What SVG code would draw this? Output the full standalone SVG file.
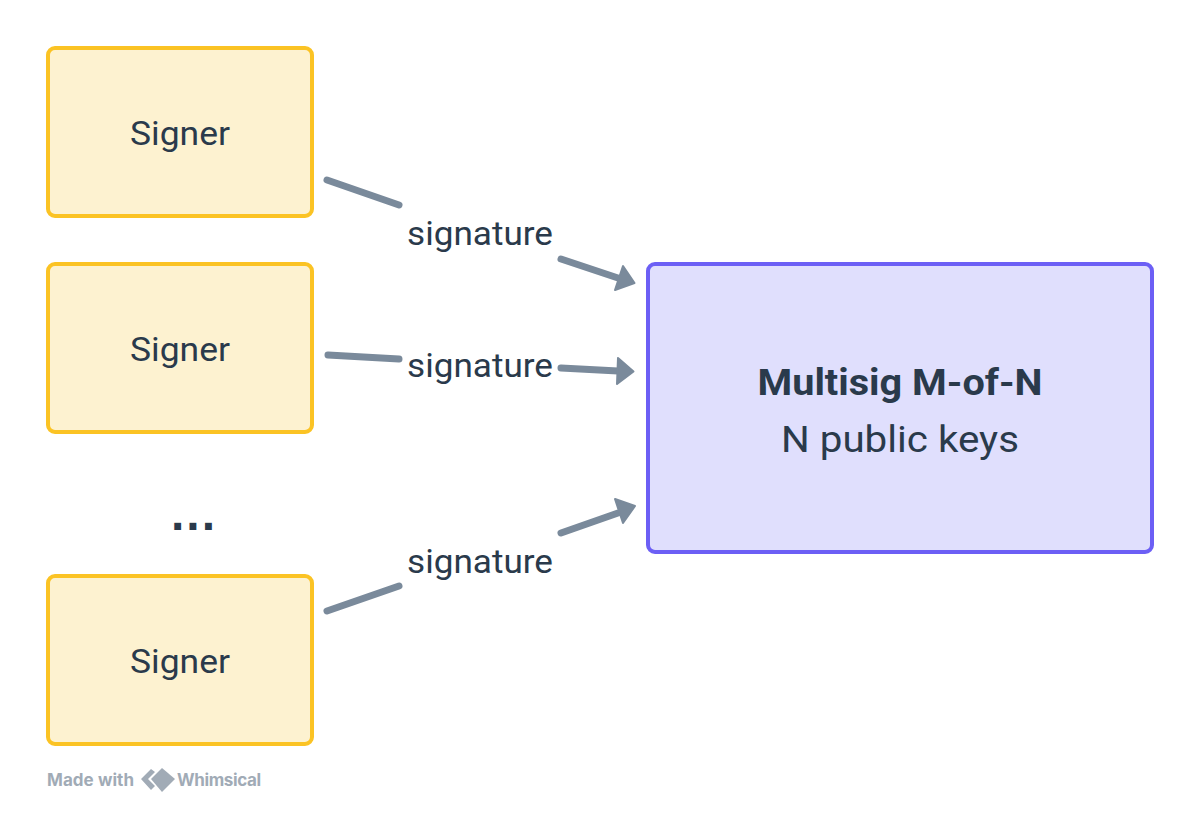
<svg xmlns="http://www.w3.org/2000/svg" width="1200" height="816" viewBox="0 0 1200 816">
<style>
.signer{fill:#fdf2d0;stroke:#fbc324;stroke-width:4}
.multi{fill:#e0dffd;stroke:#6c5ff5;stroke-width:4}
text{font-family:"Roboto","Noto Sans",sans-serif;fill:#2a3a4b;text-anchor:middle}
.t{font-size:34px}
.m{font-size:37px}
.l{font-size:33px}
.c{fill:none;stroke:#7a8a9b;stroke-width:7;stroke-linecap:round}
.h{fill:#7a8a9b;stroke:#7a8a9b;stroke-width:2;stroke-linejoin:round}
.w{font-family:"Inter","Liberation Sans",sans-serif;font-size:17px;font-weight:700;fill:#a1abb6;text-anchor:start}
</style>
<rect width="1200" height="816" fill="#ffffff"/>
<g id="connectors">
<path class="c" d="M327 180L399 205"/><path class="c" d="M561 259L618 278"/><polygon class="h" points="634.500,283 623,266 615,290"/>
<path class="c" d="M328 355L399 359"/><path class="c" d="M561 368L618 371"/><polygon class="h" points="633.500,371.500 618,358 617,384"/>
<path class="c" d="M327 611L399 586"/><path class="c" d="M561 533L618 513"/><polygon class="h" points="635,506 615,499 623,523"/>
</g>
<g id="signer1"><rect class="signer" x="48" y="48" width="264" height="168" rx="7"/><text class="t" x="180" y="145" textLength="100" lengthAdjust="spacingAndGlyphs">Signer</text></g>
<g id="signer2"><rect class="signer" x="48" y="264" width="264" height="168" rx="7"/><text class="t" x="180" y="361" textLength="100" lengthAdjust="spacingAndGlyphs">Signer</text></g>
<g id="signer3"><rect class="signer" x="48" y="576" width="264" height="168" rx="7"/><text class="t" x="180" y="673" textLength="100" lengthAdjust="spacingAndGlyphs">Signer</text></g>
<g id="multisig"><rect class="multi" x="648" y="264" width="504" height="288" rx="7"/>
<text class="m" x="900" y="395" font-weight="700" textLength="285" lengthAdjust="spacingAndGlyphs">Multisig M-of-N</text><text class="m" x="900" y="452" textLength="238" lengthAdjust="spacingAndGlyphs">N public keys</text></g>
<g id="labels">
<text class="l" x="480" y="245" textLength="146" lengthAdjust="spacingAndGlyphs">signature</text><text class="l" x="480" y="377" textLength="146" lengthAdjust="spacingAndGlyphs">signature</text><text class="l" x="480" y="573" textLength="146" lengthAdjust="spacingAndGlyphs">signature</text>
<text x="194" y="530" font-size="48" font-weight="700" letter-spacing="2" style="font-family:'Liberation Sans',sans-serif">...</text>
</g>
<g id="watermark"><text class="w" x="47" y="786" textLength="87">Made with</text>
<path d="M151 769L141 779L151 790L155 786L148 779L155 772Z" fill="#a1abb6"/><path d="M162 768L151 779L162 792L175 779Z" fill="#a1abb6"/>
<text class="w" x="177" y="786" textLength="84">Whimsical</text></g>
</svg>
